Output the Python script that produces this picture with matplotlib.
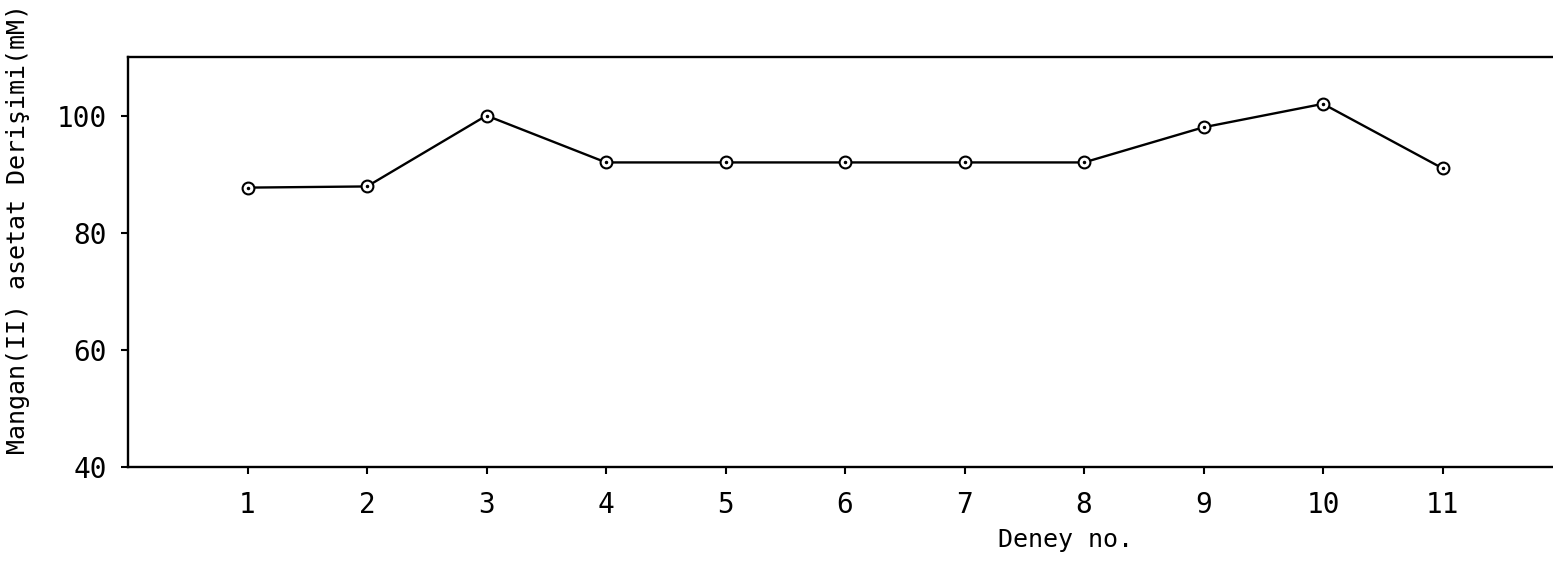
import matplotlib
matplotlib.use("Agg")
import matplotlib.pyplot as plt

# Data
experiments = [1, 2, 3, 4, 5, 6, 7, 8, 9, 10, 11]
concentration = [87.7, 87.9, 100, 92, 92, 92, 92, 92, 98, 102, 91]
yticks = [40, 60, 80, 100]
ylabel = "Mangan(II) asetat Derişimi(mM)"
xlabel = "Deney no."

plt.rcParams['font.family'] = ['DejaVu Sans Mono', 'DejaVu Sans']

W, H = 1553, 565
fig = plt.figure(figsize=(W / 100, H / 100), dpi=100)
ax = fig.add_axes([128 / W, 98 / H, 1434 / W, 410 / H])

ax.plot(experiments, concentration, color='black', lw=1.7,
        marker='o', markersize=8.5, markerfacecolor='white',
        markeredgecolor='black', markeredgewidth=1.5, zorder=3)
ax.plot(experiments, concentration, linestyle='none', marker='.',
        markersize=3, color='black', zorder=4)

ax.set_xlim(0, 12)
ax.set_ylim(40, 110)
ax.set_xticks(experiments)
ax.set_xticklabels([str(e) for e in experiments])
ax.set_yticks(yticks)

for s in ['left', 'bottom', 'top']:
    ax.spines[s].set_linewidth(1.7)
ax.spines['right'].set_visible(False)

ax.tick_params(axis='both', direction='out', length=5, width=1.5,
               labelsize=20, colors='black')
ax.tick_params(axis='x', pad=12)
ax.tick_params(axis='y', pad=10)

fig.text(1066 / W, 1 - 540 / H, xlabel, ha='center', va='center', fontsize=18)
fig.text(18 / W, 1 - 229 / H, ylabel, ha='center', va='center',
         rotation=90, fontsize=18)

fig.savefig("out.png", dpi=100)
